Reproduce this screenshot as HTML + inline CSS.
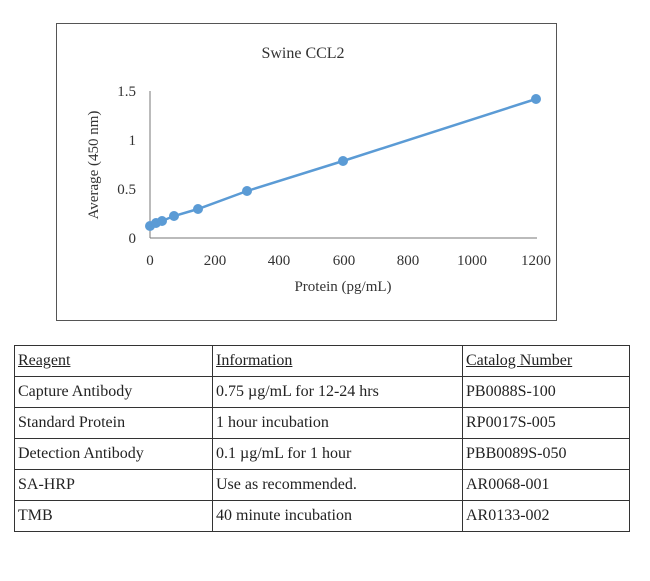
<!DOCTYPE html>
<html><head><style>
body{margin:0;width:650px;height:581px;background:#fff;position:relative;font-family:"Liberation Serif",serif;overflow:hidden}
#box{position:absolute;left:56px;top:23px;width:501px;height:298px;border:1.5px solid #555;box-sizing:border-box}
table{position:absolute;left:14px;top:345px;border-collapse:collapse;font-size:16px;color:#222}
td{border:1.5px solid #333;height:30px;padding:0 3px;white-space:nowrap}
</style></head><body>
<div id="box"></div>
<svg width="650" height="581" style="position:absolute;left:0;top:0" font-family="Liberation Serif, serif" fill="#333">
<text x="303" y="58" font-size="16" text-anchor="middle">Swine CCL2</text>
<line x1="150" y1="91" x2="150" y2="238" stroke="#777" stroke-width="1"/>
<line x1="150" y1="238" x2="537" y2="238" stroke="#777" stroke-width="1"/>
<g font-size="15" text-anchor="end">
<text x="136" y="96">1.5</text><text x="136" y="145">1</text><text x="136" y="194">0.5</text><text x="136" y="243">0</text>
</g>
<g font-size="15" text-anchor="middle">
<text x="150" y="265">0</text><text x="215" y="265">200</text><text x="279" y="265">400</text><text x="344" y="265">600</text><text x="408" y="265">800</text><text x="472" y="265">1000</text><text x="536" y="265">1200</text>
</g>
<text x="343" y="291" font-size="15" text-anchor="middle">Protein (pg/mL)</text>
<text transform="translate(98,165) rotate(-90)" font-size="15" text-anchor="middle">Average (450 nm)</text>
<polyline fill="none" stroke="#5b9bd5" stroke-width="2.5" points="150,226 156,223 162,221 174,216 198,209 247,191 343,161 536,99"/>
<g fill="#5b9bd5">
<circle cx="150" cy="226" r="5"/><circle cx="156" cy="223" r="5"/><circle cx="162" cy="221" r="5"/><circle cx="174" cy="216" r="5"/><circle cx="198" cy="209" r="5"/><circle cx="247" cy="191" r="5"/><circle cx="343" cy="161" r="5"/><circle cx="536" cy="99" r="5"/>
</g>
</svg>
<table>
<tr><td style="width:191px"><u>Reagent</u></td><td style="width:243px"><u>Information</u></td><td style="width:160px"><u>Catalog Number</u></td></tr>
<tr><td>Capture Antibody</td><td>0.75 µg/mL for 12-24 hrs</td><td>PB0088S-100</td></tr>
<tr><td>Standard Protein</td><td>1 hour incubation</td><td>RP0017S-005</td></tr>
<tr><td>Detection Antibody</td><td>0.1 µg/mL for 1 hour</td><td>PBB0089S-050</td></tr>
<tr><td>SA-HRP</td><td>Use as recommended.</td><td>AR0068-001</td></tr>
<tr><td>TMB</td><td>40 minute incubation</td><td>AR0133-002</td></tr>
</table>
</body></html>
